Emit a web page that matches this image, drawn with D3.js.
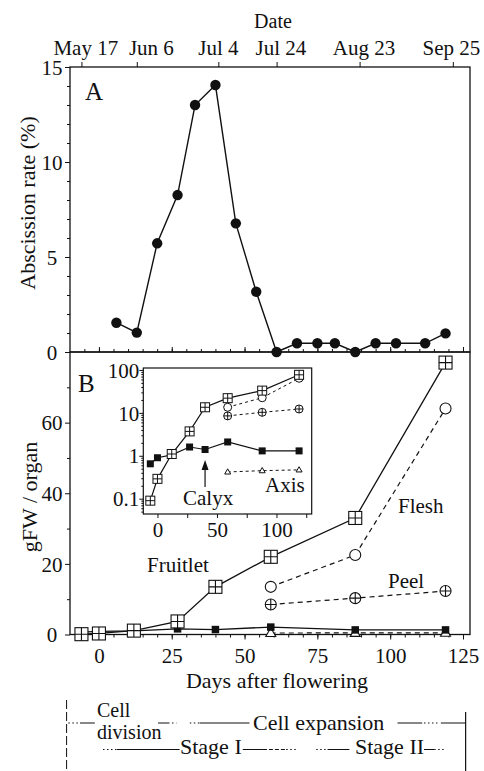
<!DOCTYPE html>
<html><head><meta charset="utf-8">
<script src="https://cdn.jsdelivr.net/npm/d3@7"></script>
<style>
body{margin:0;background:#fff;}
svg text{font-family:"Liberation Serif","Times New Roman",serif;fill:#111;}
</style></head><body>
<svg id="c" width="484" height="771"></svg>
<script>
// ---------------- DATA ----------------
const dateLabels = ["May 17","Jun 6","Jul 4","Jul 24","Aug 23","Sep 25"];
const dateTickDays = [-6, 13, 41, 61, 89.5, 121.5];
const dateLabelDays = [-4.5, 18, 41, 62.5, 91, 121];

const abscissionDays = [6, 13, 20, 27, 33, 40, 47, 54, 61, 68, 75, 81, 88, 95, 102, 112, 119];
const abscissionRate = [1.54, 1.02, 5.72, 8.26, 13.0, 14.05, 6.77, 3.17, 0, 0.46, 0.46, 0.46, 0, 0.46, 0.46, 0.46, 0.98];

const organDays = [-6, 0, 12, 27, 40, 59, 88, 119];
const fruitletFW = [0.09, 0.29, 1.1, 3.7, 13.5, 22, 33, 77];
const calyxFW = [0.65, 0.9, 1.05, 1.6, 1.4, 2.1, 1.3, 1.3];
const partDays = [59, 88, 119];
const fleshFW = [13.5, 22.5, 64];
const peelFW = [8.5, 10.3, 12.3];
const axisFW = [0.42, 0.45, 0.47];

const absTicks = [0, 5, 10, 15];
const fwTicks = [0, 20, 40, 60];
const dayTicks = [0, 25, 50, 75, 100, 125];
const insetDayLabels = [0, 50, 100];
const insetLogTicks = [0.1, 1, 10, 100];

// phase annotation segments (in days after flowering)
const phaseRow1 = [[-10.5,-6.5,"dot"],[-6.5,-1.4,"solid"],[20.3,23.7,"solid"],[23.7,26.6,"dot"],[31.2,34.6,"dot"],[34.6,51.7,"solid"],[102.5,111,"solid"],[111.6,116.2,"dot"],[117.4,125.9,"solid"]];
const phaseRow2 = [[1.4,6.2,"dot"],[6.2,27.7,"solid"],[49.4,56.3,"solid"],[56.3,64.3,"dash"],[64.3,67.7,"dot"],[74.6,78.5,"dot"],[78.5,86,"solid"],[111.6,115.1,"solid"],[115.1,118.5,"dot"]];

// ---------------- LAYOUT ----------------
const INK = "#111";
const svg = d3.select("#c");
const L = 70, R = 470, A_TOP = 67, A_BOT = 352, B_BOT = 634.5;
const x = d3.scaleLinear().domain([-9.93, 127.4]).range([L, R]);
const yA = d3.scaleLinear().domain([0, 15]).range([A_BOT, A_TOP]);
const yB = d3.scaleLinear().domain([0, 80]).range([B_BOT, A_BOT]);

const IL = 143.3, IR = 311.7, IT = 368, IB = 514;
const xi = d3.scaleLinear().domain([-11.9, 129.6]).range([IL, IR]);
const yi = d3.scaleLog().domain([0.044, 111]).range([IB, IT]);

function styleAxis(g, fs) {
  g.attr("font-size", null).attr("font-family", null);
  g.select(".domain").remove();
  g.selectAll(".tick line").attr("stroke", INK).attr("stroke-width", 1);
  g.selectAll(".tick text").style("font-size", fs + "px").attr("fill", INK);
}

// ---------------- PANEL FRAMES ----------------
svg.append("rect").attr("x", L).attr("y", A_TOP).attr("width", R - L).attr("height", A_BOT - A_TOP)
  .attr("fill", "none").attr("stroke", INK).attr("stroke-width", 1.3);
svg.append("rect").attr("x", L).attr("y", A_BOT).attr("width", R - L).attr("height", B_BOT - A_BOT)
  .attr("fill", "none").attr("stroke", INK).attr("stroke-width", 1.3);

// top date axis
const gTop = svg.append("g").attr("transform", `translate(0,${A_TOP})`)
  .call(d3.axisTop(x).tickValues(dateTickDays).tickSize(5).tickFormat(""));
styleAxis(gTop, 20);
svg.append("g").selectAll("text").data(dateLabels).join("text")
  .attr("x", (d, i) => x(dateLabelDays[i])).attr("y", 55)
  .attr("text-anchor", "middle").style("font-size", "21px").text(d => d);
svg.append("text").attr("x", 273).attr("y", 28).attr("text-anchor", "middle")
  .style("font-size", "20px").text("Date");

// Panel A y axis
const gAy = svg.append("g").attr("transform", `translate(${L},0)`)
  .call(d3.axisLeft(yA).tickValues(absTicks).tickSize(5).tickFormat(d3.format("d")));
styleAxis(gAy, 21);
gAy.selectAll(".tick text").attr("x", -18).attr("text-anchor", "middle").attr("dy", "0.34em");
const gAym = svg.append("g").attr("transform", `translate(${L},0)`)
  .call(d3.axisLeft(yA).tickValues(d3.range(0, 16)).tickSize(3).tickFormat(""));
styleAxis(gAym, 10);

// Panel A bottom ticks (pointing up)
const gAx = svg.append("g").attr("transform", `translate(0,${A_BOT})`)
  .call(d3.axisTop(x).tickValues(d3.range(-5, 126, 5)).tickSize(3).tickFormat(""));
styleAxis(gAx, 10);
const gAx2 = svg.append("g").attr("transform", `translate(0,${A_BOT})`)
  .call(d3.axisTop(x).tickValues(dayTicks).tickSize(5).tickFormat(""));
styleAxis(gAx2, 10);

svg.append("text").attr("transform", "translate(27,203) rotate(-90)").attr("text-anchor", "middle")
  .attr("dy", "0.35em").style("font-size", "22px").text("Abscission rate (%)");
svg.append("text").attr("x", 85).attr("y", 100).style("font-size", "25px").text("A");

// Panel A data
svg.append("path").datum(abscissionDays.map((d, i) => [d, abscissionRate[i]]))
  .attr("d", d3.line().x(d => x(d[0])).y(d => yA(d[1])))
  .attr("fill", "none").attr("stroke", INK).attr("stroke-width", 1.4);
svg.append("g").selectAll("circle").data(abscissionDays).join("circle")
  .attr("cx", d => x(d)).attr("cy", (d, i) => yA(abscissionRate[i])).attr("r", 5.2).attr("fill", INK);

// Panel B axes
const gBy = svg.append("g").attr("transform", `translate(${L},0)`)
  .call(d3.axisLeft(yB).tickValues(fwTicks).tickSize(5).tickFormat(d3.format("d")));
styleAxis(gBy, 21);
gBy.selectAll(".tick text").attr("x", -18).attr("text-anchor", "middle").attr("dy", "0.34em");
const gBym = svg.append("g").attr("transform", `translate(${L},0)`)
  .call(d3.axisLeft(yB).tickValues([10, 30, 50, 70]).tickSize(3).tickFormat(""));
styleAxis(gBym, 10);

const gBx = svg.append("g").attr("transform", `translate(0,${B_BOT})`)
  .call(d3.axisBottom(x).tickValues(dayTicks).tickSize(5).tickFormat(d3.format("d")));
styleAxis(gBx, 21);
gBx.selectAll(".tick text").attr("y", 28.5).attr("dy", null);
const gBxm = svg.append("g").attr("transform", `translate(0,${B_BOT})`)
  .call(d3.axisBottom(x).tickValues(d3.range(-5, 126, 5)).tickSize(3).tickFormat(""));
styleAxis(gBxm, 10);

svg.append("text").attr("x", 277).attr("y", 688).attr("text-anchor", "middle")
  .style("font-size", "22px").text("Days after flowering");
svg.append("text").attr("transform", "translate(29,497) rotate(-90)").attr("text-anchor", "middle")
  .attr("dy", "0.35em").style("font-size", "22px").text("gFW / organ");
svg.append("text").attr("x", 78).attr("y", 392).style("font-size", "25px").text("B");

// ---------------- MARKERS ----------------
function sqCross(g, cx, cy, s, sw) {
  g.append("rect").attr("x", cx - s / 2).attr("y", cy - s / 2).attr("width", s).attr("height", s)
    .attr("fill", "#fff").attr("stroke", INK).attr("stroke-width", sw);
  g.append("path").attr("d", `M${cx - s / 2},${cy}H${cx + s / 2}M${cx},${cy - s / 2}V${cy + s / 2}`)
    .attr("stroke", INK).attr("stroke-width", sw);
}
function sqFill(g, cx, cy, s) {
  g.append("rect").attr("x", cx - s / 2).attr("y", cy - s / 2).attr("width", s).attr("height", s).attr("fill", INK);
}
function circOpen(g, cx, cy, r, sw) {
  g.append("circle").attr("cx", cx).attr("cy", cy).attr("r", r).attr("fill", "#fff").attr("stroke", INK).attr("stroke-width", sw);
}
function circPlus(g, cx, cy, r, sw) {
  circOpen(g, cx, cy, r, sw);
  g.append("path").attr("d", `M${cx - r},${cy}H${cx + r}M${cx},${cy - r}V${cy + r}`).attr("stroke", INK).attr("stroke-width", sw);
}
function tri(g, cx, cy, s, sw) {
  const h = s * 0.87;
  g.append("path").attr("d", `M${cx},${cy - h * 0.6}L${cx + s / 2},${cy + h * 0.4}L${cx - s / 2},${cy + h * 0.4}Z`)
    .attr("fill", "#fff").attr("stroke", INK).attr("stroke-width", sw);
}

function drawSeries(g, xs, ys, days, vals, dash, sw, marker) {
  g.append("path").datum(days.map((d, i) => [d, vals[i]]))
    .attr("d", d3.line().x(d => xs(d[0])).y(d => ys(d[1])))
    .attr("fill", "none").attr("stroke", INK).attr("stroke-width", sw)
    .attr("stroke-dasharray", dash);
  days.forEach((d, i) => marker(g, xs(d), ys(vals[i])));
}

// Panel B main data
const gB = svg.append("g");
drawSeries(gB, x, yB, partDays, axisFW, "5,4", 1.2, (g, cx, cy) => tri(g, cx, cy, 10, 1.1));
drawSeries(gB, x, yB, organDays, calyxFW, null, 1.3, (g, cx, cy) => sqFill(g, cx, cy, 7.5));
drawSeries(gB, x, yB, partDays, peelFW, "5,4", 1.2, (g, cx, cy) => circPlus(g, cx, cy, 5.5, 1.1));
drawSeries(gB, x, yB, partDays, fleshFW, "5,4", 1.2, (g, cx, cy) => circOpen(g, cx, cy, 5.5, 1.1));
drawSeries(gB, x, yB, organDays, fruitletFW, null, 1.3, (g, cx, cy) => sqCross(g, cx, cy, 13, 1.1));

svg.append("text").attr("x", 147).attr("y", 572).style("font-size", "21px").text("Fruitlet");
svg.append("text").attr("x", 398).attr("y", 513).style("font-size", "21px").text("Flesh");
svg.append("text").attr("x", 388).attr("y", 588).style("font-size", "21px").text("Peel");

// ---------------- INSET ----------------
svg.append("rect").attr("x", IL).attr("y", IT).attr("width", IR - IL).attr("height", IB - IT)
  .attr("fill", "#fff").attr("stroke", INK).attr("stroke-width", 1.2);
const gIy = svg.append("g").attr("transform", `translate(${IL},0)`)
  .call(d3.axisLeft(yi).tickValues(insetLogTicks).tickSize(4).tickPadding(0).tickFormat(d => d < 1 ? "0.1" : d3.format("d")(d)));
styleAxis(gIy, 21);
gIy.selectAll(".tick text").attr("dy", "0.34em");
const minorLog = [];
[0.01, 0.1, 1, 10].forEach(b => { for (let k = 2; k <= 9; k++) { const v = b * k; if (v > 0.044 && v < 111) minorLog.push(v); } });
const gIym = svg.append("g").attr("transform", `translate(${IL},0)`)
  .call(d3.axisLeft(yi).tickValues(minorLog).tickSize(2).tickFormat(""));
styleAxis(gIym, 10);
const gIx = svg.append("g").attr("transform", `translate(0,${IB})`)
  .call(d3.axisBottom(xi).tickValues(dayTicks).tickSize(4).tickFormat(d => insetDayLabels.includes(d) ? d3.format("d")(d) : ""));
styleAxis(gIx, 21);
gIx.selectAll(".tick text").attr("y", 23).attr("dy", null);

const gI = svg.append("g");
drawSeries(gI, xi, yi, partDays, axisFW, "3,3", 1, (g, cx, cy) => tri(g, cx, cy, 6, 1));
drawSeries(gI, xi, yi, organDays, calyxFW, null, 1.2, (g, cx, cy) => sqFill(g, cx, cy, 7));
drawSeries(gI, xi, yi, partDays, peelFW, "3,3", 1, (g, cx, cy) => circPlus(g, cx, cy, 4, 1));
drawSeries(gI, xi, yi, partDays, fleshFW, "3,3", 1, (g, cx, cy) => circOpen(g, cx, cy, 4, 1));
drawSeries(gI, xi, yi, organDays, fruitletFW, null, 1.2, (g, cx, cy) => sqCross(g, cx, cy, 9, 1));

// Calyx arrow
const ax = xi(40);
svg.append("line").attr("x1", ax).attr("x2", ax).attr("y1", 487).attr("y2", 468).attr("stroke", INK).attr("stroke-width", 1.2);
svg.append("path").attr("d", `M${ax},${460}L${ax + 3.5},${470}L${ax - 3.5},${470}Z`).attr("fill", INK);
svg.append("text").attr("x", 183).attr("y", 505).style("font-size", "21px").text("Calyx");
svg.append("text").attr("x", 265).attr("y", 492).style("font-size", "21px").text("Axis");

// ---------------- PHASE ANNOTATION ----------------
const dashFor = { solid: null, dot: "1.5,2.5", dash: "4,2" };
function drawRow(segs, yy) {
  svg.append("g").selectAll("line").data(segs).join("line")
    .attr("x1", d => x(d[0])).attr("x2", d => x(d[1])).attr("y1", yy).attr("y2", yy)
    .attr("stroke", INK).attr("stroke-width", 1).attr("stroke-dasharray", d => dashFor[d[2]]);
}
drawRow(phaseRow1, 723);
drawRow(phaseRow2, 749.5);
svg.append("line").attr("x1", x(-11.1)).attr("x2", x(-11.1)).attr("y1", 700).attr("y2", 771)
  .attr("stroke", INK).attr("stroke-width", 1).attr("stroke-dasharray", "9,3");
svg.append("line").attr("x1", x(125.9)).attr("x2", x(125.9)).attr("y1", 712).attr("y2", 771)
  .attr("stroke", INK).attr("stroke-width", 1.2);
svg.append("text").attr("x", 97).attr("y", 717).style("font-size", "20px").text("Cell");
svg.append("text").attr("x", 97).attr("y", 739).style("font-size", "20px").text("division");
svg.append("text").attr("x", 253).attr("y", 730).style("font-size", "22px").text("Cell expansion");
svg.append("text").attr("x", 180).attr("y", 754).style("font-size", "22px").text("Stage I");
svg.append("text").attr("x", 355).attr("y", 754).style("font-size", "22px").text("Stage II");
</script>
</body></html>
